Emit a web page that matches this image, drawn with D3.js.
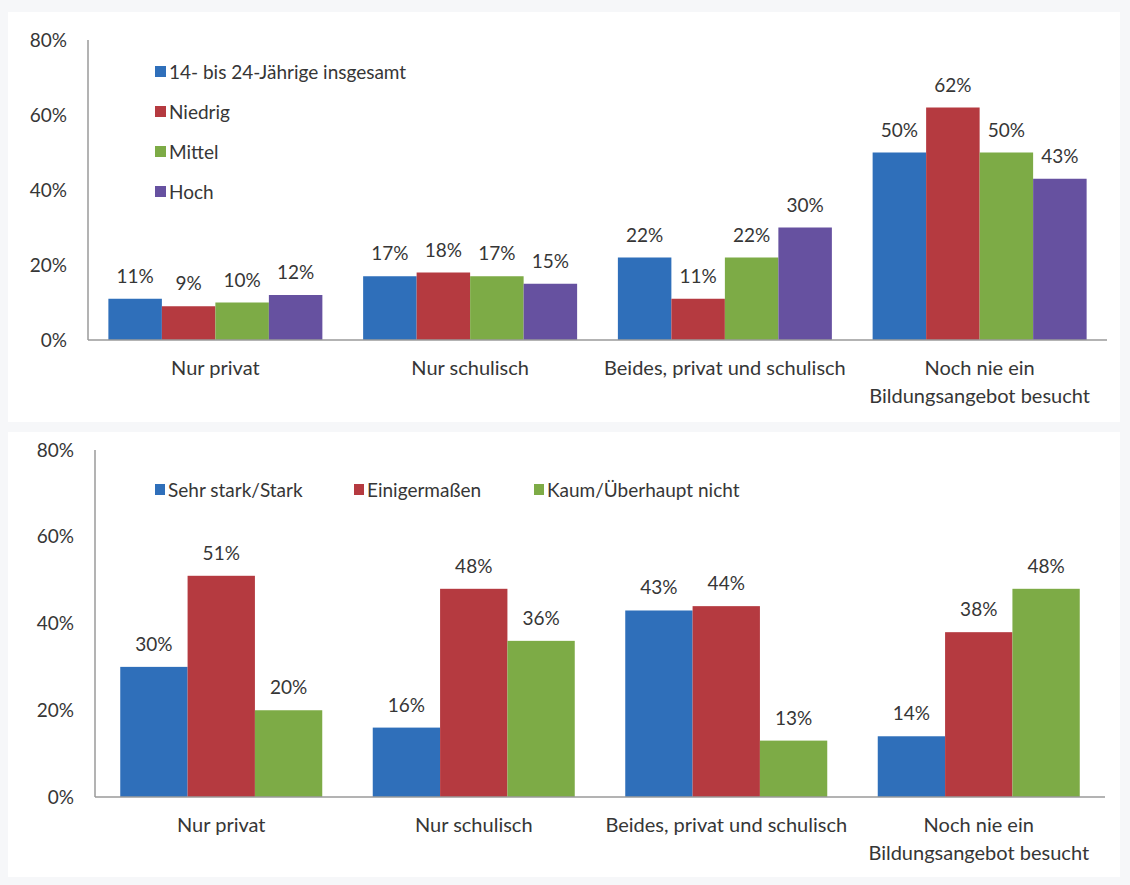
<!DOCTYPE html>
<html>
<head>
<meta charset="utf-8">
<script src="https://cdn.jsdelivr.net/npm/d3@7"></script>
<style>
  body { margin: 0; background: #f6f7f9; }
  svg { display: block; }
  text { font-family: Lato, 'Open Sans', sans-serif; fill: #363636; }
</style>
</head>
<body>
<div id="chart"></div>
<script>
const width = 1130
const height = 885

// data
const categories = [
  'Nur privat',
  'Nur schulisch',
  'Beides, privat und schulisch',
  'Noch nie ein|Bildungsangebot besucht'
]

const topSeries = ['14- bis 24-Jährige insgesamt', 'Niedrig', 'Mittel', 'Hoch']
const topInsgesamt = [11, 17, 22, 50]
const topNiedrig = [9, 18, 11, 62]
const topMittel = [10, 17, 22, 50]
const topHoch = [12, 15, 30, 43]

const bottomSeries = ['Sehr stark/Stark', 'Einigermaßen', 'Kaum/Überhaupt nicht']
const bottomStark = [30, 16, 43, 14]
const bottomEinigermassen = [51, 48, 44, 38]
const bottomKaum = [20, 36, 13, 48]

const yTicks = [0, 20, 40, 60, 80]

const colors = ['#2f6fba', '#b53a40', '#7dab46', '#6651a0']

const svg = d3
  .select('#chart')
  .append('svg')
  .attr('width', width)
  .attr('height', height)

function drawChart(opts) {
  const { left, right, top, bottom, series, values, padding, panel } = opts

  const g = svg.append('g')

  // white panel behind the chart
  g.append('rect')
    .attr('x', panel[0])
    .attr('y', panel[1])
    .attr('width', panel[2])
    .attr('height', panel[3])
    .attr('fill', '#ffffff')

  const xScale = d3
    .scaleBand()
    .domain(categories)
    .range([left, right])
    .paddingInner(padding)
    .paddingOuter(padding / 2)

  const xInner = d3
    .scaleBand()
    .domain(series)
    .range([0, xScale.bandwidth()])

  const yScale = d3
    .scaleLinear()
    .domain([0, 80])
    .range([bottom, top])

  // y axis labels
  g.selectAll('.y-label')
    .data(yTicks)
    .enter()
    .append('text')
    .attr('x', left - 21)
    .attr('y', d => yScale(d))
    .attr('dy', '0.35em')
    .attr('text-anchor', 'end')
    .style('font-size', '19px')
    .text(d => d + '%')

  // bars
  const rows = categories.map((c, i) =>
    series.map((s, j) => ({ cat: c, name: s, value: values[j][i], idx: j }))
  )

  const groups = g
    .selectAll('.group')
    .data(rows)
    .enter()
    .append('g')
    .attr('transform', (d, i) => `translate(${xScale(categories[i])},0)`)

  groups
    .selectAll('rect')
    .data(d => d)
    .enter()
    .append('rect')
    .attr('x', d => xInner(d.name))
    .attr('width', xInner.bandwidth())
    .attr('y', d => yScale(d.value))
    .attr('height', d => bottom - yScale(d.value))
    .attr('fill', d => colors[d.idx])

  groups
    .selectAll('.value')
    .data(d => d)
    .enter()
    .append('text')
    .attr('x', d => xInner(d.name) + xInner.bandwidth() / 2)
    .attr('y', d => yScale(d.value) - 16)
    .attr('text-anchor', 'middle')
    .style('font-size', '19px')
    .text(d => d.value + '%')

  // axis lines
  g.append('line')
    .attr('x1', left)
    .attr('x2', left)
    .attr('y1', top)
    .attr('y2', bottom)
    .attr('stroke', '#9a9a9a')
    .attr('stroke-width', 1.5)

  g.append('line')
    .attr('x1', left)
    .attr('x2', right)
    .attr('y1', bottom)
    .attr('y2', bottom)
    .attr('stroke', '#9a9a9a')
    .attr('stroke-width', 1.5)

  // category labels
  g.selectAll('.cat-label')
    .data(categories)
    .enter()
    .append('text')
    .attr('x', d => xScale(d) + xScale.bandwidth() / 2)
    .attr('y', bottom + 35)
    .attr('text-anchor', 'middle')
    .style('font-size', '20px')
    .each(function(d) {
      const lines = d.split('|')
      d3.select(this)
        .selectAll('tspan')
        .data(lines)
        .enter()
        .append('tspan')
        .attr('x', xScale(d) + xScale.bandwidth() / 2)
        .attr('dy', (l, i) => (i === 0 ? 0 : 28))
        .text(l => l)
    })

  return g
}

// top chart
const topChart = drawChart({
  left: 88,
  right: 1107,
  top: 40,
  bottom: 340,
  series: topSeries,
  values: [topInsgesamt, topNiedrig, topMittel, topHoch],
  padding: 0.16,
  panel: [8, 12, 1112, 410]
})

const topLegend = topChart
  .selectAll('.legend')
  .data(topSeries)
  .enter()
  .append('g')
  .attr('transform', (d, i) => `translate(155,${72 + i * 40})`)

topLegend
  .append('rect')
  .attr('x', 0)
  .attr('y', -6)
  .attr('width', 11)
  .attr('height', 11)
  .attr('fill', (d, i) => colors[i])

topLegend
  .append('text')
  .attr('x', 14)
  .attr('dy', '0.35em')
  .style('font-size', '19px')
  .text(d => d)

// bottom chart
const bottomChart = drawChart({
  left: 95,
  right: 1105,
  top: 450,
  bottom: 797,
  series: bottomSeries,
  values: [bottomStark, bottomEinigermassen, bottomKaum],
  padding: 0.2,
  panel: [8, 432, 1112, 445]
})

const legendX = [155, 354, 534]

const bottomLegend = bottomChart
  .selectAll('.legend')
  .data(bottomSeries)
  .enter()
  .append('g')
  .attr('transform', (d, i) => `translate(${legendX[i]},490)`)

bottomLegend
  .append('rect')
  .attr('x', 0)
  .attr('y', -6)
  .attr('width', 10)
  .attr('height', 11)
  .attr('fill', (d, i) => colors[i])

bottomLegend
  .append('text')
  .attr('x', 13)
  .attr('dy', '0.35em')
  .style('font-size', '19px')
  .text(d => d)
</script>
</body>
</html>
